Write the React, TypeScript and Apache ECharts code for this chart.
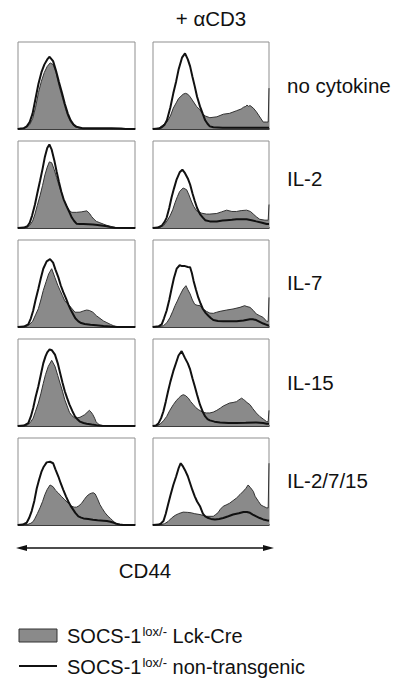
import React, { useEffect, useRef } from 'react';
import * as echarts from 'echarts';

// Row labels (cytokine conditions) and column header
const rowLabels = ['no cytokine', 'IL-2', 'IL-7', 'IL-15', 'IL-2/7/15'];
const columnHeader = '+ \u03b1CD3';
const axisTitle = 'CD44';

// Histograms: [CD44 position (% of axis), cell count (% of panel height)]
// lck = SOCS-1 lox/- Lck-Cre (filled), ctrl = SOCS-1 lox/- non-transgenic (line)
const noCytoLck = [[0,0],[5,1],[7.5,2],[10,5],[12.5,12],[15,25],[17.5,42],[20,55],[22.5,65],[25,72],[27.5,76],[30,74],[32.5,65],[35,50],[37.5,38],[40,26],[42.5,15],[45,8],[47.5,4],[50,2],[52.5,1],[56,0.5],[100,0]];
const noCytoCtrl = [[0,0],[2.5,0.5],[5,1],[7.5,3],[10,8],[12.5,18],[15,35],[17.5,52],[20,65],[22.5,74],[25,80],[27,83],[30,78],[32.5,67],[35,54],[37.5,42],[40,29],[42.5,18],[45,10],[47.5,5],[50,2.5],[55,1],[60,0.8],[70,0.8],[80,0.8],[88,0.5],[92,0],[100,0]];
const noCytoCD3Lck = [[0,0],[5,1],[8,4],[12,8],[15,15],[17.5,24],[20,30],[22,35],[26,40],[28,41],[30,40],[32,37],[35,31],[37.5,26],[40.5,22],[43,17],[45,15],[49,13],[55,14],[60.6,17],[66,18],[72,21],[76,23],[78,25],[80,26],[81,27.5],[82.5,26],[83.6,27],[86.5,24],[89,20],[91,16],[95,8],[98,8],[99.3,8],[100,47]];
const noCytoCD3Ctrl = [[0,0],[5,0.5],[7.5,2],[10,5],[12,10],[15,25],[17.5,41],[20,55],[22,68],[25,82],[27.6,87],[30,80],[32,72],[34,60],[36,49],[38,37],[40.5,26],[43,17],[45,10],[47,6],[49,3],[52,2],[60,1.5],[70,1.5],[80,1.5],[90,1.5],[100,1.5]];

const il2Lck = [[0,0],[8,1],[10,3],[12.5,8],[14.5,16],[16.5,26],[18.8,37],[21,49],[23,61],[25,70],[26.8,76],[28.8,75],[31,67],[33,58],[35,49],[37,41],[39,33],[41.6,25],[44,20],[46,18],[50,18],[54,18.5],[58.7,19.7],[61,17],[63,13],[65,10],[67,7.6],[70,6],[73,4.5],[76,3],[79,2],[83,0.5],[87,0],[100,0]];
const il2Ctrl = [[0,0],[5,0.5],[8,2],[10,6],[12,14],[14.5,27],[16.5,40],[18.8,54],[21,68],[23,82],[25,92],[26.8,96],[28.8,90],[31,78],[33,65],[35,53],[37,42],[39,33],[41.6,25],[44,18],[46,12],[48,8],[50,5],[53,4.5],[56,4.5],[60,4.3],[64,4],[68,3.5],[73,2.6],[76,2],[79,1],[83,0.3],[100,0]];
const il2CD3Lck = [[0,0],[6,1],[9,2.6],[12,8],[14.7,14],[17,21],[19,29],[21,36],[23,42],[26,46],[29,44],[31,38],[33,31],[35,25],[37.6,19.7],[42,17],[46,16],[49,16],[55,16.7],[59,18.5],[63.5,20.5],[68,19],[72,19],[76,20],[80.7,20.5],[84,19],[86.5,16],[89,13],[92,10],[96.5,9],[99.3,9],[100,27]];
const il2CD3Ctrl = [[0,0],[4,0.5],[7.5,2.6],[10,7],[11.8,12],[14,23],[16,35],[18,45],[20.4,56],[23,64],[25.3,67],[27.6,63],[30,57],[32,50],[34,40],[36,31],[38,23],[40.5,16],[43,12],[45,9],[49,7.6],[55,7.6],[60,8.5],[63.5,9],[68,9.5],[72,10],[76,10],[80.7,10],[85,9],[89,7.6],[94,6],[98,4.5],[100,4.5]];

const il7Lck = [[0,0],[7,0.5],[9,2],[12.5,6.5],[15,14],[17.4,21],[19.5,31],[21.6,42],[24,52],[26.2,61],[28.8,67],[31.5,57],[34,48],[36,42],[38,36],[40,30],[44,24.5],[48.7,17],[53,17],[56,18.5],[58.7,19.5],[61,19],[64,17],[67,13],[70,10],[73,7],[76,5],[79,3],[81.5,1.5],[85,0],[100,0]];
const il7Ctrl = [[0,0],[5,0.5],[8.8,3],[11,10],[13,19],[15,31],[17.4,44],[19.5,56],[21.6,67],[24.5,75.5],[27.4,78],[30,74],[32,66],[34.5,57],[36.5,48],[38.7,40],[41,33],[43,26],[45,20],[47,15],[49,10],[51.6,6.5],[54,4.5],[57,3.4],[62,2.5],[67,2],[73,1.2],[79,0.5],[85,0],[100,0]];
const il7CD3Lck = [[0,0],[5,0.5],[9,1.5],[12,5],[14.7,11],[17,18],[19,24.5],[21,30],[23,36],[26,43.7],[28.4,47.5],[30,43],[32,38],[34,31],[36,26],[38,25],[40.5,24.5],[43,21],[46,18],[49,16],[52,15.7],[55,17],[57.8,18],[63.5,19.5],[69,20.7],[75,22.6],[79,24.5],[81,23.5],[83.6,22.6],[86.5,19],[89,15],[92,13],[95,11],[98,6.5],[99.3,6.5],[100,34]];
const il7CD3Ctrl = [[0,0],[5,1],[7.5,3],[9.5,10],[11.8,19],[14,31],[16,44],[18,56],[20.4,67],[23,71],[25,70],[27.6,70],[30,69],[32,68.6],[33.5,62],[35,53],[37,43],[39,34],[41,27],[43,20.7],[45.5,16],[47.7,13],[50,10],[52,8],[56,7],[60.6,6.5],[66,6.5],[72,6.5],[78,7.5],[83.6,9],[86,9],[89,8],[92,6],[95,4],[98,2.5],[100,1.5]];

const il15Lck = [[0,0],[7,0.5],[9,2],[11,5],[13,9],[15,17],[17.4,26.4],[19.5,37],[21.6,49],[23.5,59],[25.9,68.6],[28.8,75.5],[31.6,68.6],[34,58],[36,49],[38,40],[40,30],[42,23],[44,15.7],[46,12],[48.7,9],[51,9.5],[53,10],[55,11.5],[57,13],[59,15.5],[61,18],[62.5,16],[64,13],[65.5,9],[66.7,5],[68,3],[70,1],[73,0],[100,0]];
const il15Ctrl = [[0,0],[5,0.5],[8.8,3.4],[11,11],[13,20.7],[15,33],[17.4,45.6],[19.5,59],[21.6,72],[23.5,80],[25,84.7],[27,88],[29,87],[31.6,82],[34,72],[36,61],[38,50],[40,40],[42,32],[44,24.5],[46.5,17],[48.7,11],[51,7.5],[53,5],[56,3.5],[58.7,2.7],[63,1.8],[67,1],[72,0.3],[100,0]];
const il15CD3Lck = [[0,0],[4,0.5],[6,2],[9,6],[11.8,11],[14.5,18],[17.5,24.5],[20,29],[22,32],[24,34.5],[26,36],[28,35],[30.5,32],[32.5,28],[34.8,24.5],[37,21],[39,19],[43,15.7],[46,15],[49,15],[52,16],[55,18],[58,20.5],[60.6,23],[63,24.5],[66,26.4],[69,27],[72,28],[74,30],[76.4,32],[78,30.5],[79,29.5],[81,27],[83.6,24.5],[86,20],[89,15],[92,11],[95,8],[98,5],[99.3,5],[100,18]];
const il15CD3Ctrl = [[0,0],[2.5,0.5],[4.6,2.7],[7,9],[9,17],[11,28],[13,40],[15,51],[17.5,63],[20,73],[22,81],[24.7,86],[27.6,78],[30,72],[32,65],[34,55],[36,45.6],[38,36],[40.5,24.5],[43,16],[45,11],[47,8],[49,6.5],[53,5],[57.8,4],[65,3.5],[72,3.4],[80,3.6],[89,4],[95,3.5],[98,2.7],[100,2.7]];

const il2715Lck = [[0,0],[8,0.5],[11,2],[13,4],[14.5,7.6],[16.5,13],[18.8,19.7],[21,27],[23,35],[25,41],[27.4,46],[30,44],[32,40],[34.5,36.7],[37,33],[40,29],[43,25],[45.8,21.6],[48,20.5],[50,20.5],[52,22],[54.4,25],[56.5,29],[58.7,33],[61,35.5],[63,36.7],[64.5,37],[66,35.6],[68,30],[70,23.5],[72,19],[74.4,14],[77,10],[79,7.6],[81,5],[83,2.6],[86,0.5],[88,0],[100,0]];
const il2715Ctrl = [[0,0],[4,0.5],[7.4,2.6],[9.5,8],[11.7,16],[14,28],[16,42],[18,52],[20,61],[22,67],[24.5,72],[27.4,72.7],[30,71],[32,64],[34.5,55.7],[36.5,48],[38.7,40.5],[41,33],[43,27],[45,22],[47,18],[49,14],[51.6,10],[54,8.5],[56,7.6],[60,6.8],[64,6],[68,5.5],[73,5],[76,4.5],[79,3.8],[82,2.5],[84,1.5],[87,0.5],[90,0],[100,0]];
const il2715CD3Lck = [[0,0],[7,0.5],[10,1.5],[13,4],[16,8],[19,11],[22,13],[26,14.8],[30,14.5],[33,14],[36,13],[40.5,12],[46,10],[52,10],[54,12],[56,14],[58,18],[60.6,21.6],[63,23],[66,25],[69,28],[72,31],[75,35],[78,39],[80,42],[82,46],[84,43],[86.5,38.6],[88,33],[91,27],[93,23],[95,21.6],[98,19.7],[99.3,19.7],[100,71]];
const il2715CD3Ctrl = [[0,0],[5,0.5],[7,2],[9,4.5],[11,13],[13,23.5],[15,34],[17.5,46],[20,56],[22,65],[23.9,71],[25.5,68],[27.6,63],[30,56],[32,48],[34,40],[36,33],[38,27],[40.5,21.6],[43,13],[45,10],[47.7,8],[50,7],[53.4,6.4],[57,7],[60.6,8],[65,10],[69,12],[74,13.5],[78,15],[81,15],[83.6,14],[86,12],[89,10],[92,8],[95,6.4],[98,5.5],[100,5]];

const legendLck = 'Lck-Cre';
const legendCtrl = 'non-transgenic';

const panelData = [
  [noCytoLck, noCytoCtrl], [noCytoCD3Lck, noCytoCD3Ctrl],
  [il2Lck, il2Ctrl], [il2CD3Lck, il2CD3Ctrl],
  [il7Lck, il7Ctrl], [il7CD3Lck, il7CD3Ctrl],
  [il15Lck, il15Ctrl], [il15CD3Lck, il15CD3Ctrl],
  [il2715Lck, il2715Ctrl], [il2715CD3Lck, il2715CD3Ctrl],
];

const FONT = '"Liberation Sans", Arial, Helvetica, sans-serif';
const FILL = '#8a8a8a';
const INK = '#111';

export default function App() {
  const ref = useRef<HTMLDivElement>(null);
  useEffect(() => {
    if (!ref.current) return;
    const chart = echarts.init(ref.current, null, { renderer: 'svg' });
    const rowTops = [42, 141, 240, 339, 438];
    const colLefts = [18, 153];
    const colWidths = [117, 116];
    const panelH = 87;
    const grids: any[] = [];
    const xAxes: any[] = [];
    const yAxes: any[] = [];
    const series: any[] = [];
    panelData.forEach((pd, i) => {
      const r = Math.floor(i / 2);
      const c = i % 2;
      grids.push({
        left: colLefts[c], top: rowTops[r], width: colWidths[c], height: panelH,
        show: true, borderColor: '#8f8f8f', borderWidth: 1, backgroundColor: '#fff',
      });
      xAxes.push({
        gridIndex: i, type: 'value', min: 0, max: 100,
        axisLine: { show: true, onZero: false, lineStyle: { color: INK, width: 1.5 } },
        axisTick: { show: false }, axisLabel: { show: false }, splitLine: { show: false },
      });
      yAxes.push({
        gridIndex: i, type: 'value', min: 0, max: 100, show: false,
        splitLine: { show: false },
      });
      series.push({
        type: 'line', xAxisIndex: i, yAxisIndex: i, data: pd[0], symbol: 'none',
        lineStyle: { color: '#333', width: 1 }, areaStyle: { color: FILL, opacity: 1 },
        z: 2, silent: true,
      });
      series.push({
        type: 'line', xAxisIndex: i, yAxisIndex: i, data: pd[1], symbol: 'none',
        lineStyle: { color: INK, width: 2 }, z: 3, silent: true,
      });
    });

    const labelYs = [85, 178, 282, 382, 480];
    const graphic: any[] = [
      {
        type: 'text', x: 211, y: 18,
        style: { text: columnHeader, font: `20.5px ${FONT}`, fill: INK, align: 'center', verticalAlign: 'middle' },
      },
      ...rowLabels.map((t, i) => ({
        type: 'text', x: 287, y: labelYs[i],
        style: { text: t, font: `20.5px ${FONT}`, fill: INK, align: 'left', verticalAlign: 'middle' },
      })),
      {
        type: 'line', shape: { x1: 20, y1: 548, x2: 270, y2: 548 },
        style: { stroke: INK, lineWidth: 1.3 },
      },
      {
        type: 'polygon', shape: { points: [[16, 548], [27, 545], [27, 551]] },
        style: { fill: INK },
      },
      {
        type: 'polygon', shape: { points: [[274, 548], [263, 545], [263, 551]] },
        style: { fill: INK },
      },
      {
        type: 'text', x: 145, y: 570,
        style: { text: axisTitle, font: `20.5px ${FONT}`, fill: INK, align: 'center', verticalAlign: 'middle' },
      },
      {
        type: 'rect', shape: { x: 19, y: 629, width: 38, height: 13 },
        style: { fill: FILL, stroke: '#333', lineWidth: 1 },
      },
      {
        type: 'line', shape: { x1: 19, y1: 666, x2: 57, y2: 666 },
        style: { stroke: INK, lineWidth: 2 },
      },
      ...[[legendLck, 636], [legendCtrl, 667]].map(([t, y]) => ({
        type: 'text', x: 67, y: y as number,
        style: {
          text: `{n|SOCS-1}{s|lox/-}{n| ${t}}`,
          fill: INK, align: 'left', verticalAlign: 'middle',
          rich: {
            n: { fontFamily: FONT, fontSize: 20, lineHeight: 22, fill: INK },
            s: { fontFamily: FONT, fontSize: 13, lineHeight: 13, verticalAlign: 'top', padding: [0, 0, 0, 1], fill: INK },
          },
        },
      })),
    ];

    chart.setOption({
      animation: false,
      backgroundColor: '#fff',
      grid: grids,
      xAxis: xAxes,
      yAxis: yAxes,
      series,
      graphic,
    });
    return () => chart.dispose();
  }, []);
  return (
    <div
      ref={ref}
      style={{ position: 'absolute', left: 0, top: 0, width: 399, height: 679, background: '#fff' }}
    />
  );
}
